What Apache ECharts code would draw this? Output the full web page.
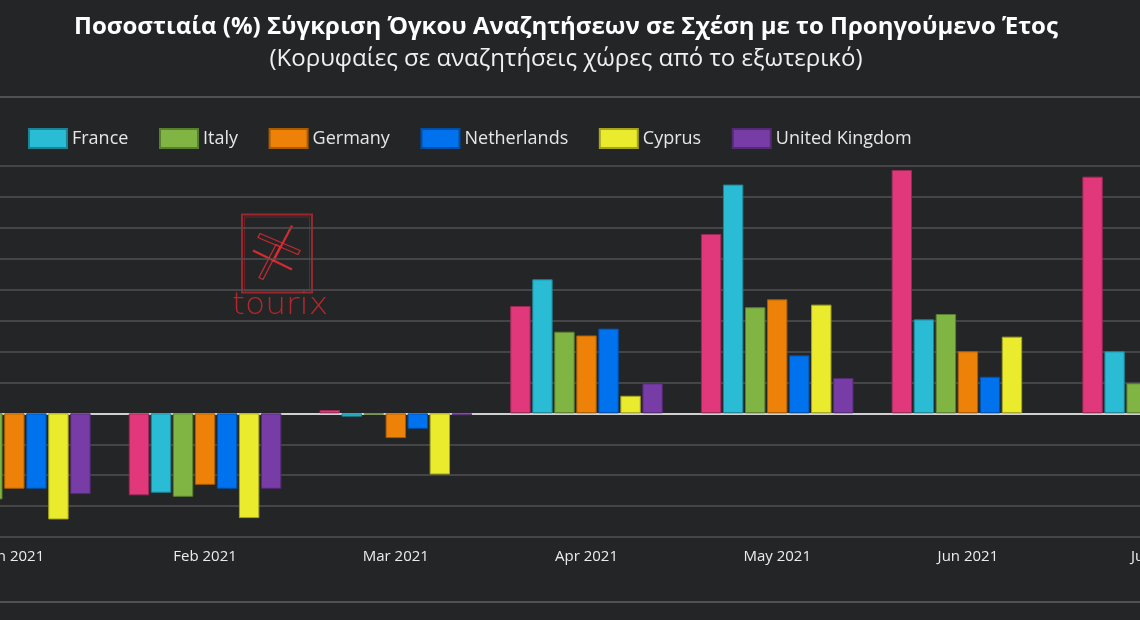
<!DOCTYPE html>
<html>
<head>
<meta charset="utf-8">
<script src="https://cdn.jsdelivr.net/npm/echarts@6/dist/echarts.min.js"></script>
<style>
    html, body { margin: 0; padding: 0; background: #242527; overflow: hidden; }
    #wrap { position: relative; width: 1140px; height: 620px; overflow: hidden; }
    #chart { position: absolute; left: -184px; top: 0; width: 1500px; height: 620px; }
</style>
</head>
<body>
<div id="wrap"><div id="chart"></div></div>
<script>
var months = ['Jan 2021', 'Feb 2021', 'Mar 2021', 'Apr 2021', 'May 2021', 'Jun 2021', 'Jul 2021'];

// % change vs previous year
var usa         = [-70, -66.3, 2.7, 86.8, 145, 196.8, 191.4];
var france      = [-72, -64.2, -2.7, 108.4, 185, 76, 50.2];
var italy       = [-69.6, -67.5, -1, 66, 85.8, 80.3, 24.3];
var germany     = [-61, -57.8, -20, 63, 92.2, 50.2, 35];
var netherlands = [-61, -61, -12.5, 68.5, 46.9, 29.6, 22];
var cyprus      = [-85.8, -84.7, -49.4, 14.2, 87.9, 62, 45];
var uk          = [-65.3, -61, -1.6, 24.3, 28.6, null, 18];

var yMin = -100, yMax = 200, yStep = 25;

var OFF = 184; // chart is wider than the window, shifted left

function bar(name, data, color, border) {
    return {
        name: name,
        type: 'bar',
        data: data,
        barGap: '8%',
        barCategoryGap: '20%',
        itemStyle: { color: color, borderColor: border, borderWidth: 1 }
    };
}

var myChart = echarts.init(document.getElementById('chart'));
var option = {
    backgroundColor: '#242527',
    animation: false,
    title: [
        {
            text: 'Ποσοστιαία (%) Σύγκριση Όγκου Αναζητήσεων σε Σχέση με το Προηγούμενο Έτος',
            left: 'center',
            top: 10,
            textStyle: { color: '#ffffff', fontSize: 24, fontWeight: 'bold', fontFamily: 'Open Sans' }
        },
        {
            text: '(Κορυφαίες σε αναζητήσεις χώρες από το εξωτερικό)',
            left: 'center',
            top: 42,
            textStyle: { color: '#f0f0f0', fontSize: 24, fontWeight: 'normal', fontFamily: 'Open Sans' }
        }
    ],
    legend: {
        left: 98,
        top: 123,
        icon: 'rect',
        itemWidth: 38,
        itemHeight: 19,
        itemGap: 30.6,
        textStyle: { color: '#e6e6e6', fontSize: 18, fontFamily: 'Open Sans' }
    },
    grid: { left: 103, right: 62, top: 166, bottom: 83 },
    xAxis: {
        type: 'category',
        data: months,
        axisTick: { show: false },
        axisLine: { lineStyle: { color: '#d0d0d0', width: 2 } },
        axisLabel: { color: '#ececec', fontSize: 15, margin: 12, fontFamily: 'Open Sans' }
    },
    yAxis: {
        type: 'value',
        min: yMin,
        max: yMax,
        interval: yStep,
        axisLabel: { color: '#dcdcdc', formatter: '{value}%' },
        splitLine: { lineStyle: { color: '#505154', width: 1.5 } }
    },
    graphic: [
        { type: 'line', shape: { x1: 0, y1: 97, x2: 1500, y2: 97 }, style: { stroke: '#505154', lineWidth: 2 } },
        { type: 'line', shape: { x1: 0, y1: 602, x2: 1500, y2: 602 }, style: { stroke: '#505154', lineWidth: 2 } },
        // tourix watermark
        {
            type: 'group',
            left: 232 + OFF,
            top: 212,
            z: 10,
            children: [
                { type: 'rect', shape: { x: 0, y: 0, width: 70, height: 78 }, style: { fill: 'none', stroke: 'rgba(205,40,45,0.7)', lineWidth: 2 } },
                { type: 'rect', shape: { x: 2.5, y: 2.5, width: 65, height: 73 }, style: { fill: 'none', stroke: 'rgba(205,40,45,0.4)', lineWidth: 1 } },
                { type: 'line', shape: { x1: 50, y1: 11, x2: 31, y2: 47 }, style: { stroke: 'rgba(230,45,50,0.9)', lineWidth: 2.2 } },
                { type: 'line', shape: { x1: 11, y1: 36, x2: 50, y2: 55 }, style: { stroke: 'rgba(230,45,50,0.9)', lineWidth: 2.2 } },
                { type: 'polygon', shape: { points: [[18, 19], [58, 36], [56, 40], [16, 23]] }, style: { fill: 'none', stroke: 'rgba(230,45,50,0.8)', lineWidth: 1.3 } },
                { type: 'polygon', shape: { points: [[34, 30], [38, 32], [21, 65], [17, 63]] }, style: { fill: 'none', stroke: 'rgba(230,45,50,0.8)', lineWidth: 1.3 } },
                { type: 'text', x: -10, y: 77, scaleX: 1.1, style: { text: 'tourix', x: 0, y: 0, fill: 'rgba(205,40,45,0.85)', fontSize: 30, fontWeight: 'lighter', fontFamily: 'DejaVu Sans' } }
            ]
        }
    ],
    series: [
        bar('USA', usa, '#e0387a', '#9c2a58'),
        bar('France', france, '#2abbd5', '#1d8496'),
        bar('Italy', italy, '#80b544', '#5a7f30'),
        bar('Germany', germany, '#ee8208', '#a85c06'),
        bar('Netherlands', netherlands, '#0072ee', '#0050a8'),
        bar('Cyprus', cyprus, '#ebeb2d', '#a5a520'),
        bar('United Kingdom', uk, '#773ca5', '#542a74')
    ]
};
myChart.setOption(option);
</script>
</body>
</html>
